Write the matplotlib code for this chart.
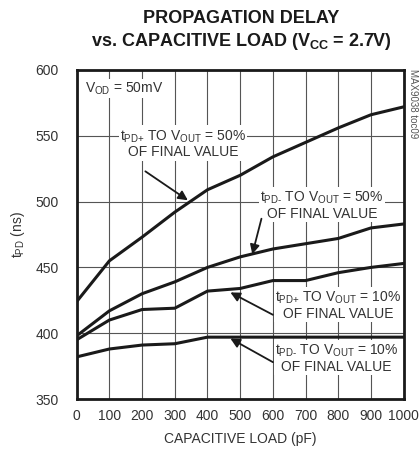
import matplotlib.pyplot as plt

plt.rcParams["font.family"] = ["Liberation Sans", "DejaVu Sans"]
plt.rcParams["mathtext.fontset"] = "custom"
plt.rcParams["mathtext.rm"] = "Liberation Sans"
plt.rcParams["mathtext.bf"] = "Liberation Sans:bold"

# capacitive load (pF)
load_pf = [0, 100, 200, 300, 400, 500, 600, 700, 800, 900, 1000]

# propagation delay (ns)
tpd_plus_50 = [424, 455, 473, 492, 509, 520, 534, 545, 556, 566, 572]
tpd_minus_50 = [398, 417, 430, 439, 450, 458, 464, 468, 472, 480, 483]
tpd_plus_10 = [395, 410, 418, 419, 432, 434, 440, 440, 446, 450, 453]
tpd_minus_10 = [382, 388, 391, 392, 397, 397, 397, 397, 397, 397, 397]

x_ticks = [0, 100, 200, 300, 400, 500, 600, 700, 800, 900, 1000]
y_ticks = [350, 400, 450, 500, 550, 600]

fig = plt.figure(figsize=(4.19, 4.59), dpi=100)
ax = fig.add_axes([0.183, 0.1307, 0.7805, 0.7168])

for series in (tpd_plus_50, tpd_minus_50, tpd_plus_10, tpd_minus_10):
    ax.plot(load_pf, series, color="#1a1a1a", linewidth=2.2, zorder=3)

ax.set_xlim(0, 1000)
ax.set_ylim(350, 600)
ax.set_xticks(x_ticks)
ax.set_yticks(y_ticks)
ax.tick_params(length=0, labelsize=10, colors="#333333")
ax.tick_params(axis="y", pad=13)
ax.tick_params(axis="x", pad=7)
ax.grid(True, color="#555555", linewidth=0.8)
for spine in ax.spines.values():
    spine.set_linewidth(2)
    spine.set_color("#1a1a1a")

ax.set_xlabel("CAPACITIVE LOAD (pF)", fontsize=10, color="#333333", labelpad=7)
ax.set_ylabel(r"t$_\text{PD}$ (ns)", fontsize=10, color="#333333", labelpad=6)

fig.text(0.575, 0.978, "PROPAGATION DELAY", ha="center", va="top",
         fontsize=13, fontweight="bold", color="#1a1a1a")
fig.text(0.575, 0.932, r"vs. CAPACITIVE LOAD (V$_{\mathbf{CC}}$ = 2.7V)",
         ha="center", va="top", fontsize=13, fontweight="bold", color="#1a1a1a")
fig.text(0.986, 0.85, "MAX9038 toc09", rotation=270, ha="center", va="top",
         fontsize=7, color="#555555")

box = dict(facecolor="white", edgecolor="none", pad=1.0)
arrow = dict(arrowstyle="-|>", color="#1a1a1a", linewidth=1.3, mutation_scale=14,
             shrinkA=0, shrinkB=0)
text_kw = dict(fontsize=10, color="#333333", ha="center", va="center",
               linespacing=1.05, bbox=box, zorder=2.5)

ax.text(25, 586, r"V$_\text{OD}$ = 50mV", fontsize=10, color="#333333",
        ha="left", va="center", bbox=box, zorder=2.5)

ax.annotate("", xy=(340, 501), xytext=(210, 523), arrowprops=arrow, zorder=4)
ax.text(325, 544, r"t$_\text{PD+}$ TO V$_\text{OUT}$ = 50%" + "\nOF FINAL VALUE",
        **text_kw)

ax.annotate("", xy=(537, 460), xytext=(565, 487), arrowprops=arrow, zorder=4)
ax.text(750, 497, r"t$_\text{PD-}$ TO V$_\text{OUT}$ = 50%" + "\nOF FINAL VALUE",
        **text_kw)

ax.annotate("", xy=(470, 431), xytext=(600, 414), arrowprops=arrow, zorder=4)
ax.text(800, 421, r"t$_\text{PD+}$ TO V$_\text{OUT}$ = 10%" + "\nOF FINAL VALUE",
        **text_kw)

ax.annotate("", xy=(470, 396), xytext=(600, 378), arrowprops=arrow, zorder=4)
ax.text(795, 381, r"t$_\text{PD-}$ TO V$_\text{OUT}$ = 10%" + "\nOF FINAL VALUE",
        **text_kw)

fig.savefig("out.png", dpi=100)
